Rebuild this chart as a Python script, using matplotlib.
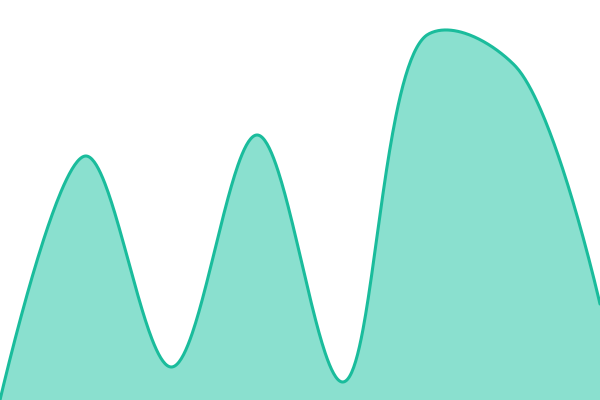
import numpy as np
import matplotlib
matplotlib.use("Agg")
import matplotlib.pyplot as plt

# data
categories = [0, 1, 2, 3, 4, 5, 6, 7]
values = [0, 244, 33, 265, 18, 366, 335, 96]

W, H = 600, 400
fig = plt.figure(figsize=(6, 4), dpi=100)
ax = fig.add_axes([0, 0, 1, 1])
ax.set_xlim(categories[0], categories[-1])
ax.set_ylim(0, 400)
ax.axis("off")


def catmull_rom(px, py, alpha=0.5, n=80):
    """Centripetal Catmull-Rom (as d3.curveCatmullRom) in display space."""
    P = np.column_stack([px, py]).astype(float)
    P = np.vstack([P[0], P, P[-1]])
    t = np.linspace(0, 1, n)[:, None]
    segs = []
    for i in range(1, len(P) - 2):
        p0, p1, p2, p3 = P[i-1], P[i], P[i+1], P[i+2]
        l01 = np.linalg.norm(p1 - p0); l12 = np.linalg.norm(p2 - p1); l23 = np.linalg.norm(p3 - p2)
        l01a, l12a, l23a = l01**alpha, l12**alpha, l23**alpha
        l01_2a, l12_2a, l23_2a = l01**(2*alpha), l12**(2*alpha), l23**(2*alpha)
        c1 = p1.copy(); c2 = p2.copy()
        if l01a > 1e-12:
            a = 2*l01_2a + 3*l01a*l12a + l12_2a
            nn = 3*l01a*(l01a + l12a)
            c1 = (p1*a - p0*l12_2a + p2*l01_2a) / nn
        if l23a > 1e-12:
            b = 2*l23_2a + 3*l23a*l12a + l12_2a
            m = 3*l23a*(l23a + l12a)
            c2 = (p2*b + p1*l23_2a - p3*l12_2a) / m
        B = ((1-t)**3)*p1 + 3*((1-t)**2)*t*c1 + 3*(1-t)*t**2*c2 + t**3*p2
        segs.append(B)
    return np.vstack(segs)

disp = ax.transData.transform(np.column_stack([categories, values]))
curve_disp = catmull_rom(disp[:, 0], disp[:, 1])
curve = ax.transData.inverted().transform(curve_disp)
cx, cy = curve[:, 0], curve[:, 1]

ax.fill_between(cx, cy, 0, color="#8ae0cf", linewidth=0)
ax.plot(cx, cy, color="#1abc9c", linewidth=2.2, solid_capstyle="round")
fig.savefig("out.png", dpi=100)
